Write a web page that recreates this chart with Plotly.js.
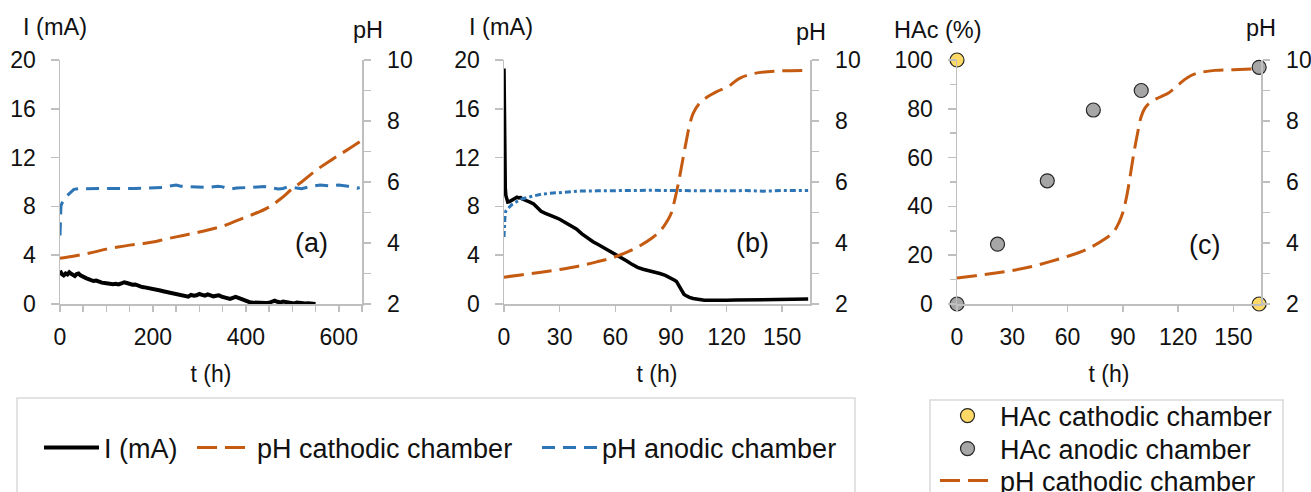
<!DOCTYPE html>
<html>
<head>
<meta charset="utf-8">
<script src="https://cdn.plot.ly/plotly-3.0.1.min.js"></script>
<style>
html,body{margin:0;padding:0;background:#fff;overflow:hidden;width:1311px;height:492px;}
#chart{width:1311px;height:492px;overflow:hidden;}
</style>
</head>
<body>
<div id="chart"></div>
<script>
// ---------- Panel (a) ----------
var aTimeI = [0,4,8,12,16,20,24,28,32,36,40,44,48,52,56,60,66,72,78,84,90,96,102,108,114,120,126,132,138,144,150,156,162,168,174,180,186,192,198,204,210,216,222,228,234,240,246,252,258,264,270,276,282,288,294,300,306,312,318,324,330,336,342,348,354,360,366,372,378,384,390,396,402,408,414,420,426,432,438,444,450,456,462,468,474,480,486,492,498,504,510,516,522,528,534,540,546,550];
var aCurrent = [2.72,2.45,2.35,2.5,2.42,2.6,2.48,2.38,2.3,2.45,2.5,2.35,2.25,2.2,2.12,2.05,1.95,1.88,1.92,1.8,1.75,1.72,1.68,1.7,1.62,1.65,1.6,1.68,1.78,1.72,1.62,1.58,1.6,1.48,1.42,1.38,1.32,1.3,1.22,1.2,1.15,1.1,1.05,1.0,0.95,0.88,0.82,0.78,0.7,0.62,0.58,0.6,0.75,0.68,0.72,0.82,0.75,0.68,0.78,0.7,0.62,0.68,0.72,0.6,0.55,0.5,0.42,0.5,0.58,0.5,0.4,0.3,0.22,0.15,0.12,0.1,0.08,0.1,0.05,0.08,0.1,0.2,0.28,0.18,0.12,0.2,0.15,0.08,0.1,0.05,0.12,0.08,0.1,0.05,0.06,0.03,0.02,0.0];

var aTimeCath = [0,25,50,75,100,125,150,175,200,225,250,275,300,325,350,375,400,425,450,475,500,520,540,560,580,600,620,645];
var aPhCath = [3.5,3.56,3.63,3.71,3.8,3.87,3.93,3.98,4.03,4.12,4.2,4.28,4.36,4.45,4.55,4.7,4.85,5.0,5.18,5.45,5.78,6.0,6.25,6.48,6.68,6.88,7.07,7.32];

var aTimeAn = [0,1,2,4,7,10,15,20,25,30,40,60,80,100,120,140,160,180,200,220,240,250,260,280,300,320,340,350,360,370,380,400,420,440,460,470,480,490,500,520,540,560,580,600,620,640,645];
var aPhAn = [4.25,4.9,5.2,5.3,5.38,5.45,5.55,5.62,5.7,5.76,5.78,5.78,5.77,5.78,5.79,5.78,5.79,5.8,5.8,5.82,5.88,5.9,5.86,5.84,5.83,5.82,5.86,5.84,5.79,5.78,5.8,5.82,5.83,5.85,5.8,5.77,5.79,5.84,5.82,5.78,5.86,5.9,5.87,5.9,5.86,5.8,5.82];

// ---------- Panel (b) ----------
var bTimeI = [0,0.2,0.4,0.7,1,1.5,2,3,4,5,6,7,8,9,10,12,14,16,18,20,22,24,26,28,30,33,36,39,42,45,48,51,54,57,60,63,66,69,72,75,78,81,84,87,90,91,92,93,94,95,96,97,98,99,100,102,104,106,108,110,115,120,125,130,135,140,145,150,155,160,164];
var bCurrent = [19.3,14,10.5,9.5,8.9,8.5,8.35,8.4,8.5,8.6,8.65,8.75,8.7,8.72,8.6,8.5,8.35,8.2,7.9,7.6,7.45,7.35,7.2,7.08,6.95,6.7,6.45,6.15,5.75,5.4,5.1,4.85,4.6,4.3,4.05,3.8,3.55,3.25,3.0,2.85,2.75,2.65,2.5,2.35,2.15,2.05,1.95,1.85,1.6,1.3,1.0,0.8,0.7,0.6,0.55,0.45,0.38,0.33,0.3,0.3,0.28,0.3,0.32,0.33,0.34,0.35,0.37,0.38,0.4,0.41,0.4];

var bTimeCath = [0,10,20,30,40,50,60,70,80,85,88,90,92,94,96,98,100,102,105,110,115,121,127,135,148,164];
var bPhCath = [2.88,2.96,3.04,3.13,3.24,3.38,3.55,3.8,4.17,4.45,4.72,4.95,5.4,5.95,6.6,7.25,7.85,8.25,8.55,8.8,8.97,9.13,9.4,9.56,9.64,9.66];

var bTimeAn = [0,0.3,0.6,1,2,3,4,6,8,10,13,16,20,25,30,35,40,50,60,70,80,90,100,110,120,130,140,150,160,164];
var bPhAn = [4.2,4.7,4.95,5.05,5.12,5.2,5.25,5.33,5.4,5.45,5.5,5.55,5.6,5.63,5.65,5.68,5.7,5.71,5.72,5.72,5.73,5.72,5.71,5.72,5.71,5.72,5.7,5.72,5.72,5.72];

// ---------- Panel (c) ----------
var cTimeCathHAc = [0,164];
var cHAcCath = [100,0];
var cTimeAnHAc = [0,22,49,74,100,164];
var cHAcAn = [0,24.5,50.5,79.5,87.5,97];
var cTimePh = [0,10,20,30,40,50,60,70,80,85,88,90,92,94,96,98,100,102,105,110,115,120,125,130,140,150,164];
var cPhCath = [2.85,2.93,3.01,3.1,3.22,3.38,3.56,3.78,4.12,4.37,4.68,5.0,5.5,6.2,6.95,7.6,8.15,8.42,8.62,8.78,8.93,9.18,9.42,9.56,9.66,9.68,9.72];

// ---------- Labels ----------
var nameI = 'I (mA)';
var nameCath = 'pH cathodic chamber';
var nameAn = 'pH anodic chamber';
var nameHAcCath = 'HAc cathodic chamber';
var nameHAcAn = 'HAc anodic chamber';

var W = 1311, H = 492;
function px(x){return x/W;}
function py(y){return 1 - y/H;}

var FONT = 'Liberation Sans, Arial, sans-serif';
var cBlack = '#000000', cOrange = '#c55a11', cBlue = '#2e75b6';
var dashOrange = '20px,8px', dashBlue = '13px,8px';

var traces = [
  // (a)
  {x:aTimeI, y:aCurrent, xaxis:'x', yaxis:'y', type:'scatter', mode:'lines', name:nameI,
   line:{color:cBlack, width:4}, legend:'legend'},
  {x:aTimeCath, y:aPhCath, xaxis:'x', yaxis:'y2', type:'scatter', mode:'lines', name:nameCath,
   line:{color:cOrange, width:3, dash:dashOrange, shape:'spline'}, legend:'legend3'},
  {x:aTimeAn, y:aPhAn, xaxis:'x', yaxis:'y2', type:'scatter', mode:'lines', name:nameAn,
   line:{color:cBlue, width:3, dash:dashBlue}, legend:'legend4'},
  // (b)
  {x:bTimeI, y:bCurrent, xaxis:'x2', yaxis:'y3', type:'scatter', mode:'lines', name:nameI,
   line:{color:cBlack, width:3.5}, showlegend:false},
  {x:bTimeCath, y:bPhCath, xaxis:'x2', yaxis:'y4', type:'scatter', mode:'lines', name:nameCath,
   line:{color:cOrange, width:3, dash:dashOrange, shape:'spline'}, showlegend:false},
  {x:bTimeAn, y:bPhAn, xaxis:'x2', yaxis:'y4', type:'scatter', mode:'lines', name:nameAn,
   line:{color:cBlue, width:3, dash:'6px,3px,3px,3px'}, showlegend:false},
  // (c)
  {x:cTimePh, y:cPhCath, xaxis:'x3', yaxis:'y6', type:'scatter', mode:'lines', name:nameCath,
   line:{color:cOrange, width:3, dash:dashOrange, shape:'spline'}, legend:'legend6', cliponaxis:false},
  {x:cTimeAnHAc, y:cHAcAn, xaxis:'x3', yaxis:'y5', type:'scatter', mode:'markers', name:nameHAcAn,
   marker:{color:'#a6a6a6', size:14, line:{color:'#262626', width:1.2}}, legend:'legend5', cliponaxis:false},
  {x:cTimeCathHAc, y:cHAcCath, xaxis:'x3', yaxis:'y5', type:'scatter', mode:'markers', name:nameHAcCath,
   marker:{color:'#ffd966', size:14, line:{color:'#262626', width:1.2}}, legend:'legend2', cliponaxis:false}
];

var axCol = '#bfbfbf';
var tickFont = {family:FONT, size:23, color:'#111'};
var yDom = [py(304), py(60)];

function xAxis(dom, range, dtick, minorDtick, anchor){
  var a = {domain:dom, range:range, dtick:dtick, tick0:0, anchor:anchor,
    showline:true, linecolor:axCol, linewidth:1.5, showgrid:false, zeroline:false,
    ticks:'outside', ticklen:6, tickwidth:1.5, tickcolor:axCol, tickfont:tickFont,
    ticklabelstandoff:6, automargin:false,
    title:{text:'t (h)', font:{family:FONT, size:23, color:'#111'}, standoff:17}};
  if(minorDtick){ a.minor = {dtick:minorDtick, ticks:'outside', ticklen:6, tickwidth:1.5, tickcolor:axCol, showgrid:false}; }
  return a;
}
function yLeft(range, dtick, minorDtick, anchor){
  var a = {domain:yDom, range:range, dtick:dtick, tick0:0, anchor:anchor,
    showline:true, linecolor:axCol, linewidth:1.5, showgrid:false, zeroline:false,
    ticks:'outside', ticklen:8, tickwidth:1.5, tickcolor:axCol, tickfont:tickFont,
    ticklabelstandoff:10, automargin:false};
  if(minorDtick){ a.minor = {dtick:minorDtick, ticks:'outside', ticklen:6, tickwidth:1.5, tickcolor:axCol, showgrid:false}; }
  return a;
}
function yRight(overlay, anchor){
  return {domain:yDom, range:[2,10], dtick:2, tick0:0, anchor:anchor, overlaying:overlay, side:'right',
    showline:true, linecolor:axCol, linewidth:1.5, showgrid:false, zeroline:false,
    ticks:'outside', ticklen:7, tickwidth:1.5, tickcolor:axCol, tickfont:tickFont,
    ticklabelstandoff:12, automargin:false,
    minor:{dtick:1, ticks:'outside', ticklen:7, tickwidth:1.5, tickcolor:axCol, showgrid:false}};
}

function ann(text, x, y, size){
  return {text:text, x:px(x), y:py(y), xref:'paper', yref:'paper', xanchor:'center', yanchor:'middle',
    showarrow:false, font:{family:FONT, size:size||23.5, color:'#111'}};
}
function leg(x, yc){
  return {orientation:'v', xref:'paper', yref:'paper', x:px(x), y:py(yc), xanchor:'left', yanchor:'middle',
    bgcolor:'rgba(0,0,0,0)', borderwidth:0, itemwidth:55,
    font:{family:FONT, size:27, color:'#111'}};
}

var layout = {
  width:W, height:H,
  margin:{l:0, r:0, t:0, b:0, pad:0, autoexpand:false},
  paper_bgcolor:'#fff', plot_bgcolor:'rgba(0,0,0,0)',
  font:{family:FONT, color:'#111'},
  xaxis: xAxis([px(60), px(362)], [0,650], 200, 50, 'y'),
  yaxis: yLeft([0,20], 4, null, 'x'),
  yaxis2: yRight('y', 'x'),
  xaxis2: xAxis([px(504), px(810)], [0,165], 30, null, 'y3'),
  yaxis3: yLeft([0,20], 4, null, 'x2'),
  yaxis4: yRight('y3', 'x2'),
  xaxis3: xAxis([px(957), px(1261)], [0,165], 30, null, 'y5'),
  yaxis5: yLeft([0,100], 20, 10, 'x3'),
  yaxis6: yRight('y5', 'x3'),
  showlegend:true,
  legend: leg(39, 448),
  legend3: leg(192, 448),
  legend4: leg(537, 448),
  legend2: leg(935, 416),
  legend5: leg(935, 449),
  legend6: leg(935, 481),
  shapes:[
    {type:'rect', xref:'paper', yref:'paper', x0:px(17), x1:px(855), y0:-0.01, y1:py(398),
     line:{color:'#d9d9d9', width:1.5}, fillcolor:'rgba(0,0,0,0)', layer:'below'},
    {type:'rect', xref:'paper', yref:'paper', x0:px(930), x1:px(1283), y0:-0.01, y1:py(400),
     line:{color:'#d9d9d9', width:1.5}, fillcolor:'rgba(0,0,0,0)', layer:'below'}
  ],
  annotations:[
    ann('I (mA)', 55, 27), ann('pH', 368, 30),
    ann('I (mA)', 501, 27), ann('pH', 811, 32),
    ann('HAc (%)', 937, 30), ann('pH', 1261, 28),
    ann('(a)', 311, 243, 27), ann('(b)', 752, 243, 27), ann('(c)', 1204, 245, 27)
  ]
};

Plotly.newPlot('chart', traces, layout, {staticPlot:true, displayModeBar:false});
</script>
</body>
</html>
